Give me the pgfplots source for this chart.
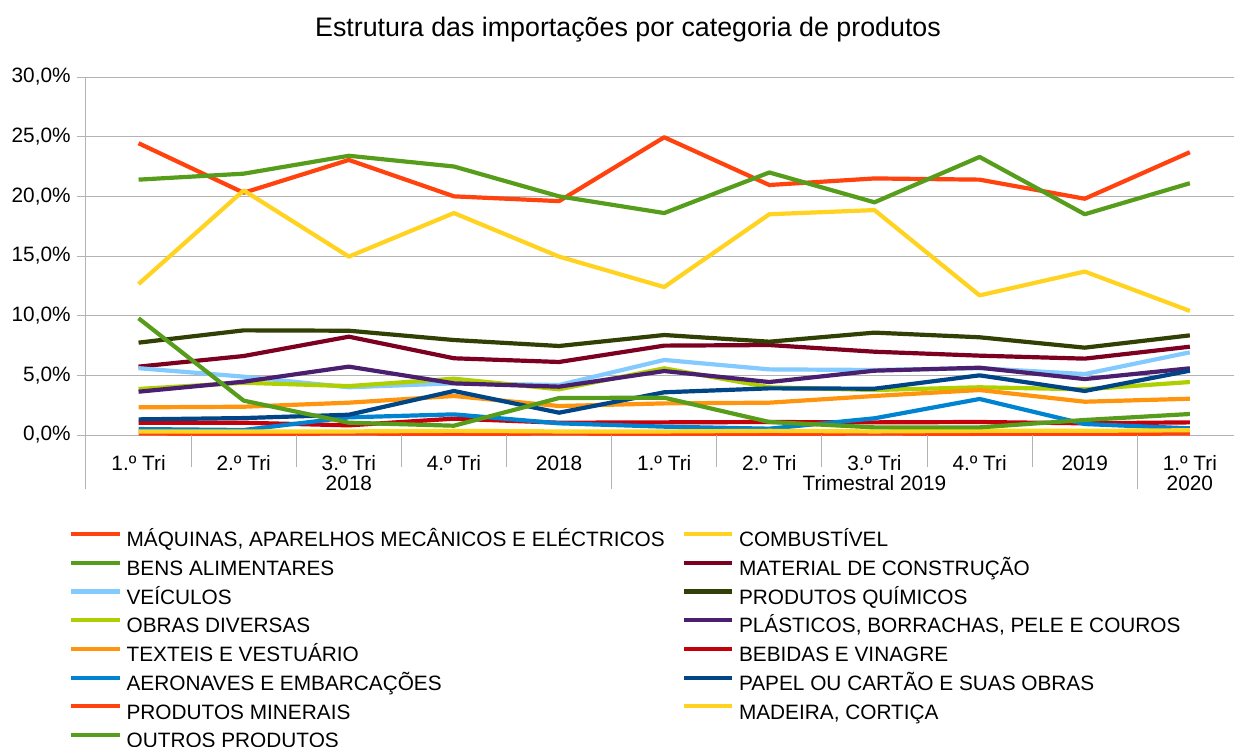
\documentclass[border=0pt]{standalone}
\usepackage{fontspec}
\setmainfont{Liberation Sans}
\usepackage{pgfplots}
\pgfplotsset{compat=1.18}
\definecolor{c1}{HTML}{FF420E}
\definecolor{c2}{HTML}{FFD320}
\definecolor{c3}{HTML}{579D1C}
\definecolor{c4}{HTML}{7E0021}
\definecolor{c5}{HTML}{83CAFF}
\definecolor{c6}{HTML}{314004}
\definecolor{c7}{HTML}{AECF00}
\definecolor{c8}{HTML}{4B1F6F}
\definecolor{c9}{HTML}{FF950E}
\definecolor{c10}{HTML}{C5000B}
\definecolor{c11}{HTML}{0084D1}
\definecolor{c12}{HTML}{004586}
\definecolor{axgray}{HTML}{B3B3B3}
\newcommand{\fs}{\fontsize{10.4}{12.5}\selectfont}
\begin{document}
\begin{tikzpicture}
\useasboundingbox (-43pt,-155.5pt) rectangle (574pt,217.5pt);
\begin{axis}[
  at={(0,0)}, anchor=south west,
  scale only axis, width=574pt, height=179pt,
  xmin=-0.5, xmax=10.42, ymin=0, ymax=30,
  axis x line*=bottom, axis y line*=left,
  axis line style={draw=axgray, line width=0.5pt, -},
  xtick={0,...,10},
  xticklabels={1.º Tri, 2.º Tri, 3.º Tri, 4.º Tri, 2018, 1.º Tri, 2.º Tri, 3.º Tri, 4.º Tri, 2019, 1.º Tri},
  x tick style={draw=none},
  xticklabel style={anchor=base, yshift=-13.2pt, font=\fs},
  ytick={0,5,...,30},
  y tick style={draw=axgray, line width=0.5pt},
  tick align=outside, major tick length=4.5pt,
  yticklabel style={font=\fs, anchor=east, inner sep=0pt, xshift=-3pt},
  yticklabel={\pgfmathprintnumber[fixed,fixed zerofill,precision=1,use comma]{\tick}\%},
  /pgf/number format/assume math mode=true,
  ymajorgrids, grid style={draw=axgray, line width=0.5pt},
  legend columns=2,
  legend cell align=left,
  legend style={draw=none, fill=none, at={(0,0)}, anchor=north west,
    xshift=-8.5pt, yshift=-47.7pt, font=\fs, inner sep=0pt, row sep=3.85pt,
    nodes={inner sep=0pt, text height=8pt, text depth=2.5pt},
    /tikz/every odd column/.style={column sep=2.5pt},
    /tikz/every even column/.style={column sep=8.5pt}},
  legend image code/.code={\draw[#1] (0pt,3.6pt) -- (24pt,3.6pt);},
  every axis plot/.append style={line width=2.1pt, line join=round},
  clip=false,
]
\addplot[c1] coordinates {(0,24.45)(1,20.3)(2,23.05)(3,20.0)(4,19.6)(5,24.95)(6,20.95)(7,21.5)(8,21.4)(9,19.8)(10,23.7)};
\addlegendentry{MÁQUINAS, APARELHOS MECÂNICOS E ELÉCTRICOS}
\addplot[c2] coordinates {(0,12.65)(1,20.5)(2,14.95)(3,18.6)(4,14.95)(5,12.4)(6,18.5)(7,18.85)(8,11.7)(9,13.7)(10,10.4)};
\addlegendentry{COMBUSTÍVEL}
\addplot[c3] coordinates {(0,21.4)(1,21.9)(2,23.4)(3,22.5)(4,20.0)(5,18.6)(6,22.0)(7,19.5)(8,23.3)(9,18.5)(10,21.1)};
\addlegendentry{BENS ALIMENTARES}
\addplot[c4] coordinates {(0,5.73)(1,6.62)(2,8.24)(3,6.43)(4,6.12)(5,7.49)(6,7.54)(7,6.98)(8,6.65)(9,6.4)(10,7.4)};
\addlegendentry{MATERIAL DE CONSTRUÇÃO}
\addplot[c5] coordinates {(0,5.6)(1,4.89)(2,4.0)(3,4.33)(4,4.19)(5,6.29)(6,5.5)(7,5.45)(8,5.6)(9,5.11)(10,6.93)};
\addlegendentry{VEÍCULOS}
\addplot[c6] coordinates {(0,7.74)(1,8.77)(2,8.74)(3,7.96)(4,7.46)(5,8.38)(6,7.82)(7,8.58)(8,8.19)(9,7.32)(10,8.35)};
\addlegendentry{PRODUTOS QUÍMICOS}
\addplot[c7] coordinates {(0,3.86)(1,4.38)(2,4.1)(3,4.72)(4,3.83)(5,5.59)(6,4.0)(7,3.77)(8,4.0)(9,3.83)(10,4.44)};
\addlegendentry{OBRAS DIVERSAS}
\addplot[c8] coordinates {(0,3.63)(1,4.47)(2,5.73)(3,4.33)(4,4.05)(5,5.36)(6,4.44)(7,5.39)(8,5.64)(9,4.69)(10,5.59)};
\addlegendentry{PLÁSTICOS, BORRACHAS, PELE E COUROS}
\addplot[c9] coordinates {(0,2.32)(1,2.37)(2,2.71)(3,3.27)(4,2.43)(5,2.65)(6,2.71)(7,3.27)(8,3.77)(9,2.79)(10,3.04)};
\addlegendentry{TEXTEIS E VESTUÁRIO}
\addplot[c10] coordinates {(0,1.03)(1,1.03)(2,0.81)(3,1.37)(4,1.03)(5,1.06)(6,1.09)(7,1.06)(8,1.09)(9,0.98)(10,1.06)};
\addlegendentry{BEBIDAS E VINAGRE}
\addplot[c11] coordinates {(0,0.5)(1,0.42)(2,1.48)(3,1.73)(4,0.98)(5,0.7)(6,0.53)(7,1.4)(8,3.02)(9,0.92)(10,0.56)};
\addlegendentry{AERONAVES E EMBARCAÇÕES}
\addplot[c12] coordinates {(0,1.31)(1,1.42)(2,1.70)(3,3.69)(4,1.87)(5,3.58)(6,3.91)(7,3.88)(8,5.0)(9,3.69)(10,5.39)};
\addlegendentry{PAPEL OU CARTÃO E SUAS OBRAS}
\addplot[c1] coordinates {(0,0.12)(1,0.1)(2,0.12)(3,0.1)(4,0.12)(5,0.1)(6,0.1)(7,0.12)(8,0.1)(9,0.1)(10,0.12)};
\addlegendentry{PRODUTOS MINERAIS}
\addplot[c2] coordinates {(0,0.3)(1,0.3)(2,0.3)(3,0.35)(4,0.3)(5,0.3)(6,0.35)(7,0.3)(8,0.35)(9,0.35)(10,0.4)};
\addlegendentry{MADEIRA, CORTIÇA}
\addplot[c3] coordinates {(0,9.78)(1,2.88)(2,1.03)(3,0.78)(4,3.1)(5,3.13)(6,1.09)(7,0.64)(8,0.64)(9,1.26)(10,1.76)};
\addlegendentry{OUTROS PRODUTOS}
\draw[axgray, line width=0.5pt] (axis cs:-0.5,0) -- ++(0pt,-27pt);
\draw[axgray, line width=0.5pt] (axis cs:4.5,0) -- ++(0pt,-27pt);
\draw[axgray, line width=0.5pt] (axis cs:9.5,0) -- ++(0pt,-27pt);
\draw[axgray, line width=0.5pt] (axis cs:0.5,0) -- ++(0pt,-16pt);
\draw[axgray, line width=0.5pt] (axis cs:1.5,0) -- ++(0pt,-16pt);
\draw[axgray, line width=0.5pt] (axis cs:2.5,0) -- ++(0pt,-16pt);
\draw[axgray, line width=0.5pt] (axis cs:3.5,0) -- ++(0pt,-16pt);
\draw[axgray, line width=0.5pt] (axis cs:5.5,0) -- ++(0pt,-16pt);
\draw[axgray, line width=0.5pt] (axis cs:6.5,0) -- ++(0pt,-16pt);
\draw[axgray, line width=0.5pt] (axis cs:7.5,0) -- ++(0pt,-16pt);
\draw[axgray, line width=0.5pt] (axis cs:8.5,0) -- ++(0pt,-16pt);
\node[font=\fs, anchor=base, yshift=-27.9pt] at (axis cs:2,0) {2018};
\node[font=\fs, anchor=base, yshift=-27.9pt] at (axis cs:7,0) {Trimestral 2019};
\node[font=\fs, anchor=base, yshift=-27.9pt] at (axis cs:10,0) {2020};
\end{axis}
\node[font=\fontsize{13.4}{16}\selectfont, anchor=base] at (271pt,199.3pt) {Estrutura das importações por categoria de produtos};
\end{tikzpicture}
\end{document}
